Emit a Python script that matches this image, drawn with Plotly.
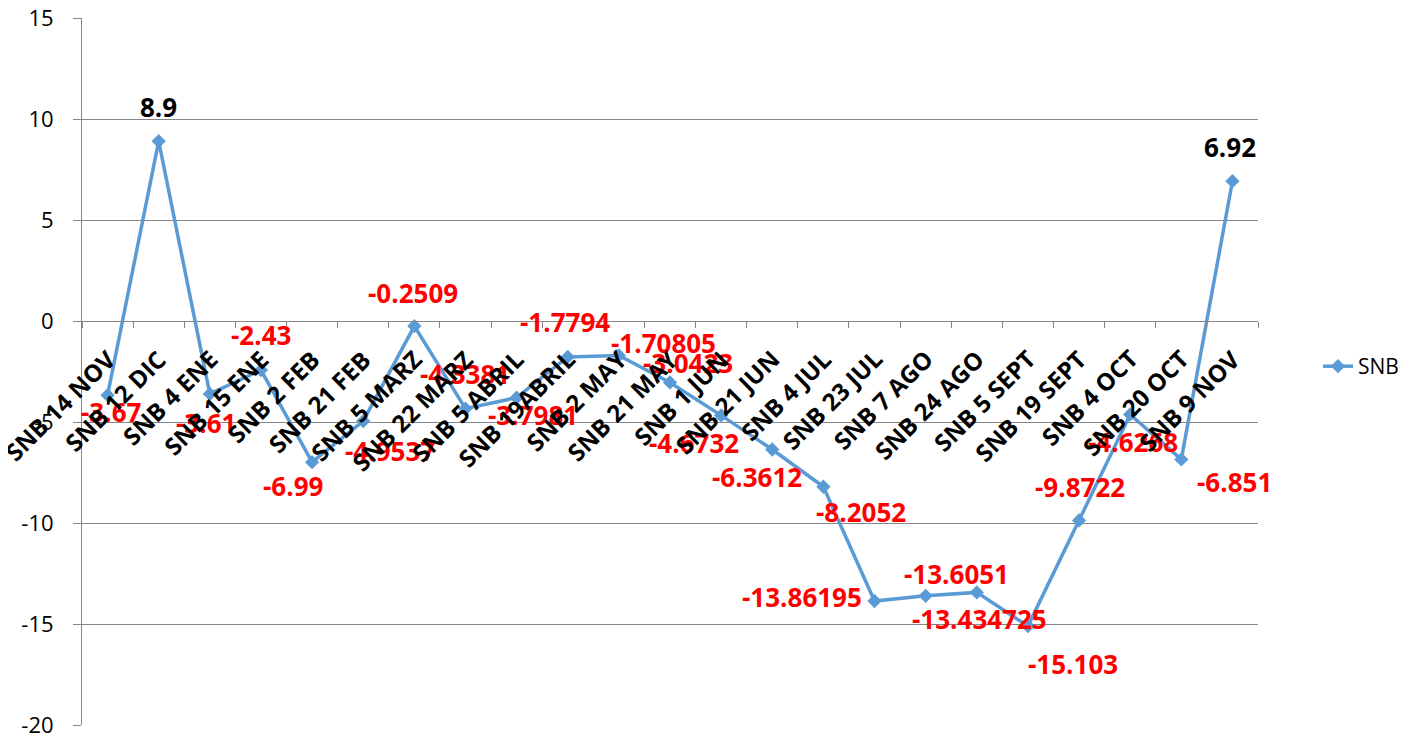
import plotly.graph_objects as go

categories = ["SNB 14 NOV", "SNB 12 DIC", "SNB 4 ENE", "SNB 15 ENE", "SNB 2 FEB", "SNB 21 FEB",
              "SNB 5 MARZ", "SNB 22 MARZ", "SNB 5 ABRIL", "SNB 19ABRIL", "SNB 2 MAY", "SNB 21 MAY",
              "SNB 1 JUN", "SNB 21 JUN", "SNB 4 JUL", "SNB 23 JUL", "SNB 7 AGO", "SNB 24 AGO",
              "SNB 5 SEPT", "SNB 19 SEPT", "SNB 4 OCT", "SNB 20 OCT", "SNB 9 NOV"]
snb_values = [-3.67, 8.9, -3.61, -2.43, -6.99, -4.9537, -0.2509, -4.3381, -3.7981, -1.7794,
              -1.70805, -3.0423, -4.6732, -6.3612, -8.2052, -13.86195, -13.6051, -13.434725,
              -15.103, -9.8722, -4.6268, -6.851, 6.92]
y_ticks = [15, 10, 5, 0, -5, -10, -15, -20]
y_range = [-20, 15]

# label placement (pixel offsets from each point: right, down)
label_offsets = [(4, 17), (0, -34), (-4, 29), (0, -35), (-19, 24), (27, 30), (-1, -33), (0, -35),
                 (16, 17), (-3, -35), (45, -13), (18, -19), (-27, 28), (-15, 27), (38, 25),
                 (-73, -4), (31, -22), (3, 27), (45, 38), (1, -33), (3, 28), (53, 23), (-2, -34)]

LINE_BLUE = "#5B9BD5"
GRID = "#868686"
FONT = "Open Sans"

fig = go.Figure()
fig.add_trace(go.Scatter(
    x=categories, y=snb_values, mode="lines+markers", name="SNB",
    line=dict(color=LINE_BLUE, width=3.5),
    marker=dict(symbol="diamond", size=11, color=LINE_BLUE),
    cliponaxis=False,
))

annotations = []
for cat, v, (dx, dy) in zip(categories, snb_values, label_offsets):
    annotations.append(dict(
        x=cat, y=v, xref="x", yref="y", text=str(v), showarrow=False,
        xanchor="center", yanchor="middle", xshift=dx, yshift=-dy,
        font=dict(family=FONT, size=26, weight="bold", color="black" if v > 0 else "#FF0000"),
    ))
for cat in categories:
    annotations.append(dict(
        x=cat, y=0, xref="x", yref="y", text=cat, showarrow=False, textangle=-45,
        xanchor="right", yanchor="top", xshift=17, yshift=-19,
        font=dict(family=FONT, size=24, weight="bold", color="black"),
    ))

zero_pos = (0 - y_range[0]) / (y_range[1] - y_range[0])

# the page body has an 8px margin, so the figure is sized/offset to compensate
fig.update_layout(
    width=1409, height=730,
    margin=dict(l=74, r=159, t=10, b=13),
    plot_bgcolor="white", paper_bgcolor="white",
    font=dict(family=FONT, size=22, color="black"),
    showlegend=True,
    legend=dict(x=1.051, y=0.507, xanchor="left", yanchor="middle",
                font=dict(family=FONT, size=21, color="black")),
    xaxis=dict(
        type="category", range=[-0.5, len(categories) - 0.5],
        anchor="free", position=zero_pos, automargin=False,
        showline=True, linecolor=GRID, linewidth=1,
        showgrid=False, zeroline=False,
        ticks="outside", ticklen=6, tickcolor=GRID, tickson="boundaries",
        showticklabels=False,
    ),
    yaxis=dict(
        range=y_range, tickmode="array", tickvals=y_ticks,
        ticktext=[str(t) for t in y_ticks], automargin=False,
        showline=True, linecolor=GRID, linewidth=1,
        showgrid=True, gridcolor=GRID, gridwidth=1, zeroline=False,
        ticks="outside", ticklen=8, tickcolor=GRID, ticklabelstandoff=15,
        ticklabeloverflow="allow",
        tickfont=dict(family=FONT, size=22, color="black"),
    ),
    annotations=annotations,
)

fig.write_html("out.html")
